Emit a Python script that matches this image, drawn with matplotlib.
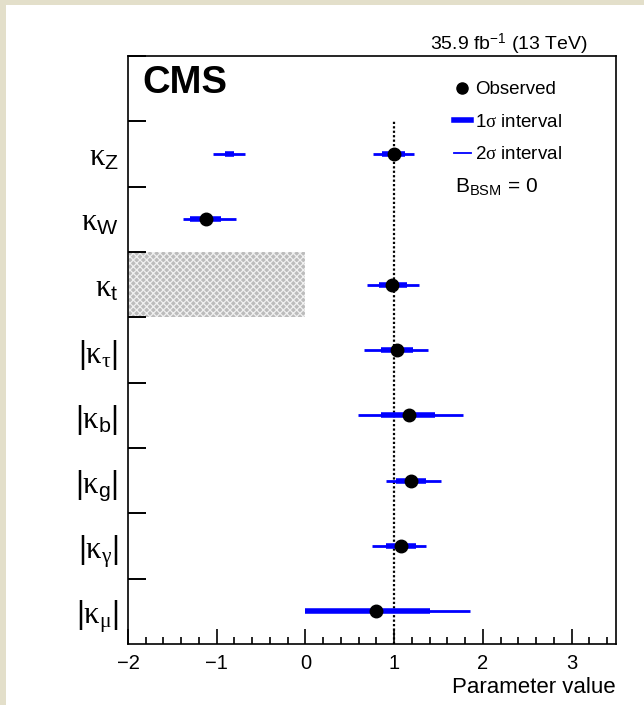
import matplotlib
matplotlib.use("Agg")
import matplotlib.pyplot as plt
from matplotlib.lines import Line2D
from matplotlib.patches import Rectangle

plt.rcParams['font.family'] = ['Liberation Sans', 'DejaVu Sans']
plt.rcParams['mathtext.fontset'] = 'custom'
plt.rcParams['mathtext.rm'] = 'Liberation Sans'
plt.rcParams['mathtext.it'] = 'Liberation Serif'
plt.rcParams['mathtext.bf'] = 'Liberation Sans:bold'
plt.rcParams['hatch.linewidth'] = 0.9

# DATA (top to bottom)
labels = [r'$\kappa_{\mathrm{Z}}$', r'$\kappa_{\mathrm{W}}$', r'$\kappa_{\mathrm{t}}$',
          r'$|\kappa_{\tau}|$', r'$|\kappa_{\mathrm{b}}|$', r'$|\kappa_{\mathrm{g}}|$',
          r'$|\kappa_{\gamma}|$', r'$|\kappa_{\mu}|$']
best = [1.00, -1.12, 0.98, 1.03, 1.17, 1.19, 1.08, 0.80]
lo1 = [0.86, -1.30, 0.83, 0.85, 0.85, 1.02, 0.91, 0.00]
hi1 = [1.12, -0.95, 1.14, 1.21, 1.46, 1.36, 1.25, 1.40]
lo2 = [0.76, -1.38, 0.69, 0.66, 0.59, 0.91, 0.75, 0.00]
hi2 = [1.22, -0.78, 1.28, 1.38, 1.77, 1.53, 1.36, 1.86]

# second (negative) interval of kappa_Z, no best-fit point there
kz_neg_1 = [-0.91, -0.80]
kz_neg_2 = [-1.04, -0.68]

# excluded region for kappa_t
kt_excl = [-2.0, 0.0]

n = len(labels)
ypos = [n - 0.5 - i for i in range(n)]

fig = plt.figure(figsize=(6.44, 7.05), dpi=100)
fig.patch.set_facecolor('#e3dfca')
fig.add_artist(Rectangle((6 / 644, 0), 1, 700 / 705, transform=fig.transFigure,
                         facecolor='white', edgecolor='none', zorder=-10))

ax = fig.add_axes([128 / 644, 61 / 705, 488 / 644, 588 / 705])

# shaded region
ax.fill_betweenx([ypos[2] - 0.5, ypos[2] + 0.5], kt_excl[0], kt_excl[1],
                 facecolor='#bcbcbc', edgecolor='#f0f0f0', hatch='xxxxx', lw=0, zorder=1)

# SM line
ax.plot([1, 1], [0, n], color='black', ls=(0, (1, 1)), lw=1.6, zorder=2)

for i in range(n):
    ax.plot([lo2[i], hi2[i]], [ypos[i], ypos[i]], color='#0000ff', lw=2.0,
            solid_capstyle='butt', zorder=3)
    ax.plot([lo1[i], hi1[i]], [ypos[i], ypos[i]], color='#0000ff', lw=4.0,
            solid_capstyle='butt', zorder=4)
ax.plot(kz_neg_2, [ypos[0]] * 2, color='#0000ff', lw=2.0, solid_capstyle='butt', zorder=3)
ax.plot(kz_neg_1, [ypos[0]] * 2, color='#0000ff', lw=4.0, solid_capstyle='butt', zorder=4)
ax.plot(best, ypos, 'o', color='black', ms=9, zorder=5, ls='none')

ax.set_xlim(-2, 3.5)
ax.set_ylim(0, n + 1)

# x axis ticks
ax.set_xticks(range(-2, 4))
ax.set_xticklabels(['\u22122', '\u22121', '0', '1', '2', '3'])
ax.set_xticks([-2 + 0.2 * k for k in range(28)], minor=True)
ax.tick_params(axis='x', which='major', direction='in', length=11, width=1.2,
               labelsize=14.5, pad=7, top=False)
ax.tick_params(axis='x', which='minor', direction='in', length=5, width=1.2, top=False)

# y axis ticks
ax.set_yticks(range(1, n + 2))
ax.set_yticklabels([])
ax.set_yticks(ypos, minor=True)
ax.set_yticklabels(labels, minor=True)
ax.tick_params(axis='y', which='major', direction='in', length=13, width=1.4, right=False)
ax.tick_params(axis='y', which='minor', length=0, labelsize=22, pad=7, right=False)

for sp in ax.spines.values():
    sp.set_linewidth(1.2)

ax.set_xlabel('Parameter value', fontsize=16, loc='right', labelpad=3)

ax.text(0.03, 0.985, 'CMS', transform=ax.transAxes, fontsize=27.5, fontweight='bold',
        va='top', ha='left')
fig.text(588 / 644, 1 - 50 / 705, r'35.9 fb$^{-1}$ (13 TeV)', fontsize=14,
         ha='right', va='baseline')

handles = [
    Line2D([], [], marker='o', color='black', ls='none', ms=8),
    Line2D([], [], color='#0000ff', lw=4.0),
    Line2D([], [], color='#0000ff', lw=1.3),
]
ax.legend(handles, ['Observed', r'1$\sigma$ interval', r'2$\sigma$ interval'],
          loc='upper left', bbox_to_anchor=(0.652, 0.97), frameon=False,
          fontsize=13.5, handlelength=0.9, handletextpad=0.25,
          labelspacing=0.82, borderaxespad=0)
ax.text(0.670, 0.769, r'B$_{\mathrm{BSM}}$ = 0', transform=ax.transAxes, fontsize=15,
        ha='left', va='baseline')

fig.savefig('out.png', dpi=100, facecolor=fig.get_facecolor())
